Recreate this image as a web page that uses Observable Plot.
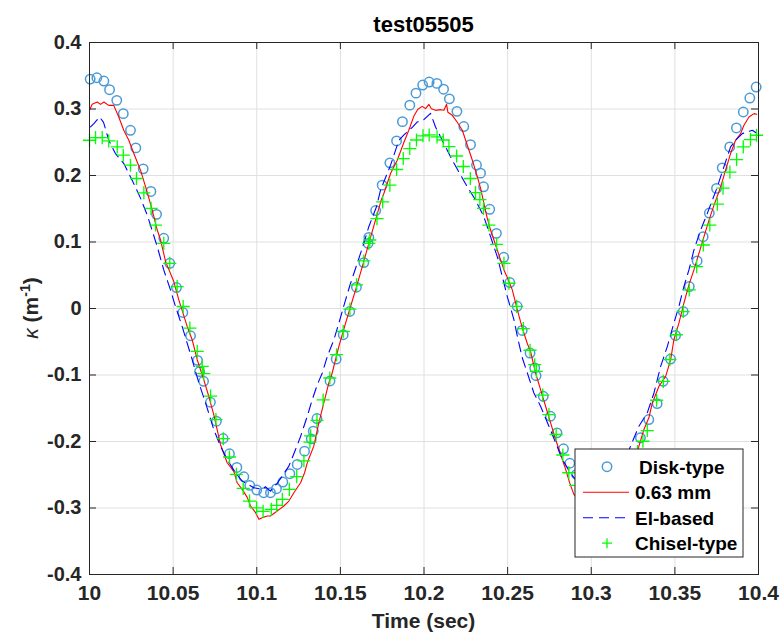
<!DOCTYPE html>
<html><head><meta charset="utf-8">
<script src="https://cdn.jsdelivr.net/npm/d3@7"></script>
<script src="https://cdn.jsdelivr.net/npm/@observablehq/plot@0.6"></script>
<style>
html,body{margin:0;padding:0;background:#fff;}
#chart{width:780px;height:636px;}
</style></head><body><div id="chart"></div>
<script>
const chartTitle = "test05505";
const xLabel = "Time (sec)";
const seriesNames = ["Disk-type", "0.63 mm", "El-based", "Chisel-type"];
const xTicks = [10, 10.05, 10.1, 10.15, 10.2, 10.25, 10.3, 10.35, 10.4];
const yTicks = [-0.4, -0.3, -0.2, -0.1, 0, 0.1, 0.2, 0.3, 0.4];

// [time (s), curvature (1/m)]
const diskType = [[10.0004,0.345],[10.0044,0.347],[10.0086,0.342],[10.0120,0.329],[10.0163,0.313],[10.0202,0.293],[10.0245,0.268],[10.0277,0.2415],[10.0321,0.210],[10.0367,0.176],[10.0401,0.1416],[10.0444,0.1056],[10.0480,0.068],[10.0520,0.0315],[10.0558,-0.006],[10.0604,-0.041],[10.0646,-0.078],[10.0658,-0.095],[10.0682,-0.1095],[10.0723,-0.141],[10.0759,-0.1695],[10.0799,-0.1955],[10.0837,-0.2184],[10.0881,-0.239],[10.0923,-0.253],[10.0958,-0.266],[10.1000,-0.273],[10.1042,-0.277],[10.1082,-0.277],[10.1118,-0.271],[10.1156,-0.261],[10.1198,-0.2484],[10.1242,-0.2345],[10.1286,-0.2145],[10.1326,-0.196],[10.1338,-0.1845],[10.1360,-0.1655],[10.1438,-0.109],[10.1475,-0.076],[10.1517,-0.0395],[10.1556,-0.0045],[10.1596,0.032],[10.1640,0.069],[10.1666,0.098],[10.1670,0.107],[10.1711,0.1473],[10.1750,0.1855],[10.1796,0.219],[10.1836,0.252],[10.1871,0.281],[10.1915,0.3058],[10.1952,0.3238],[10.1992,0.336],[10.2031,0.3405],[10.2077,0.3385],[10.2117,0.3298],[10.2152,0.3153],[10.2197,0.2965],[10.2238,0.2736],[10.2278,0.2463],[10.2314,0.2158],[10.2338,0.2035],[10.2356,0.183],[10.2393,0.1492],[10.2433,0.113],[10.2477,0.077],[10.2513,0.039],[10.2557,0.0033],[10.2587,-0.033],[10.2634,-0.067],[10.2662,-0.0894],[10.2670,-0.101],[10.2713,-0.132],[10.2756,-0.162],[10.2795,-0.187],[10.2834,-0.211],[10.2872,-0.2327],[10.2912,-0.2495],[10.2954,-0.263],[10.2996,-0.2705],[10.3031,-0.2735],[10.3073,-0.272],[10.3115,-0.266],[10.3157,-0.2555],[10.3199,-0.2405],[10.3241,-0.221],[10.3294,-0.1944],[10.3344,-0.167],[10.3394,-0.143],[10.3430,-0.1095],[10.3474,-0.076],[10.3504,-0.0405],[10.3550,-0.0045],[10.3586,0.033],[10.3633,0.0715],[10.3669,0.108],[10.3706,0.1435],[10.3749,0.1806],[10.3783,0.2115],[10.3828,0.243],[10.3868,0.2715],[10.3909,0.2955],[10.3948,0.3165],[10.3986,0.333]];

const mm063 = [[10.0000,0.298],[10.0016,0.307],[10.0046,0.3105],[10.0066,0.307],[10.0086,0.3105],[10.0115,0.3055],[10.0145,0.3055],[10.0175,0.288],[10.0205,0.268],[10.0235,0.253],[10.0265,0.233],[10.0305,0.208],[10.0345,0.175],[10.0375,0.148],[10.0405,0.118],[10.0425,0.103],[10.0455,0.0705],[10.0504,0.0405],[10.0534,0.013],[10.0584,-0.027],[10.0614,-0.047],[10.0644,-0.077],[10.0683,-0.107],[10.0713,-0.132],[10.0743,-0.1595],[10.0783,-0.2045],[10.0823,-0.232],[10.0863,-0.245],[10.0883,-0.262],[10.0913,-0.272],[10.0943,-0.284],[10.0963,-0.297],[10.0993,-0.307],[10.1013,-0.317],[10.1033,-0.3145],[10.1063,-0.312],[10.1082,-0.312],[10.1122,-0.3045],[10.1162,-0.297],[10.1192,-0.2895],[10.1222,-0.277],[10.1262,-0.262],[10.1286,-0.247],[10.1302,-0.232],[10.1341,-0.207],[10.1371,-0.172],[10.1401,-0.142],[10.1431,-0.112],[10.1451,-0.097],[10.1491,-0.057],[10.1531,-0.022],[10.1561,0.003],[10.1591,0.028],[10.1631,0.063],[10.1670,0.098],[10.1710,0.133],[10.1744,0.163],[10.1760,0.173],[10.1800,0.203],[10.1840,0.223],[10.1880,0.25],[10.1909,0.268],[10.1939,0.289],[10.1963,0.2995],[10.1990,0.304],[10.2009,0.3005],[10.2029,0.307],[10.2044,0.3005],[10.2069,0.298],[10.2099,0.299],[10.2119,0.298],[10.2135,0.307],[10.2143,0.295],[10.2169,0.2905],[10.2199,0.28],[10.2229,0.268],[10.2249,0.253],[10.2269,0.238],[10.2289,0.223],[10.2319,0.198],[10.2338,0.181],[10.2358,0.1585],[10.2378,0.136],[10.2398,0.118],[10.2438,0.088],[10.2478,0.058],[10.2494,0.049],[10.2528,0.028],[10.2558,-0.002],[10.2588,-0.0295],[10.2618,-0.053],[10.2637,-0.0645],[10.2667,-0.097],[10.2697,-0.122],[10.2727,-0.147],[10.2757,-0.172],[10.2787,-0.197],[10.2817,-0.2195],[10.2847,-0.242],[10.2870,-0.2615],[10.2896,-0.2795],[10.2936,-0.2915],[10.2978,-0.302],[10.3026,-0.311],[10.3068,-0.3125],[10.3116,-0.305],[10.3164,-0.2915],[10.3211,-0.272],[10.3253,-0.242],[10.3285,-0.207],[10.3315,-0.182],[10.3345,-0.164],[10.3365,-0.142],[10.3405,-0.117],[10.3445,-0.102],[10.3475,-0.077],[10.3494,-0.047],[10.3524,-0.022],[10.3554,0.008],[10.3584,0.0355],[10.3614,0.058],[10.3644,0.083],[10.3674,0.108],[10.3704,0.133],[10.3734,0.1555],[10.3774,0.183],[10.3803,0.208],[10.3833,0.233],[10.3863,0.253],[10.3893,0.263],[10.3913,0.2755],[10.3943,0.288],[10.3973,0.293],[10.3989,0.292]];

const elBased = [[10.0006,0.273],[10.0026,0.278],[10.0060,0.288],[10.0084,0.28],[10.0115,0.253],[10.0155,0.233],[10.0205,0.218],[10.0255,0.193],[10.0305,0.166],[10.0345,0.1405],[10.0355,0.133],[10.0405,0.093],[10.0444,0.058],[10.0484,0.028],[10.0514,0.003],[10.0554,-0.027],[10.0584,-0.052],[10.0614,-0.077],[10.0654,-0.112],[10.0694,-0.142],[10.0743,-0.182],[10.0783,-0.207],[10.0823,-0.227],[10.0873,-0.247],[10.0913,-0.2595],[10.0983,-0.2695],[10.1033,-0.272],[10.1052,-0.268],[10.1082,-0.2745],[10.1122,-0.263],[10.1152,-0.252],[10.1192,-0.237],[10.1232,-0.212],[10.1262,-0.1925],[10.1302,-0.162],[10.1332,-0.137],[10.1362,-0.1145],[10.1392,-0.097],[10.1422,-0.072],[10.1461,-0.047],[10.1491,-0.022],[10.1531,0.013],[10.1561,0.038],[10.1601,0.068],[10.1640,0.098],[10.1670,0.123],[10.1716,0.153],[10.1740,0.178],[10.1800,0.2155],[10.1850,0.253],[10.1880,0.261],[10.1930,0.2725],[10.1960,0.2805],[10.1999,0.284],[10.2039,0.2935],[10.2069,0.273],[10.2099,0.258],[10.2139,0.238],[10.2169,0.223],[10.2219,0.2005],[10.2259,0.183],[10.2308,0.163],[10.2338,0.148],[10.2358,0.138],[10.2398,0.108],[10.2438,0.078],[10.2468,0.048],[10.2498,0.018],[10.2518,0.0005],[10.2538,-0.017],[10.2558,-0.042],[10.2588,-0.0745],[10.2618,-0.097],[10.2657,-0.127],[10.2697,-0.147],[10.2747,-0.177],[10.2787,-0.202],[10.2827,-0.227],[10.2877,-0.248],[10.2925,-0.263],[10.2972,-0.2705],[10.3020,-0.275],[10.3068,-0.2735],[10.3116,-0.266],[10.3164,-0.251],[10.3205,-0.227],[10.3235,-0.207],[10.3285,-0.177],[10.3335,-0.157],[10.3375,-0.127],[10.3415,-0.087],[10.3455,-0.057],[10.3494,-0.022],[10.3524,0.003],[10.3554,0.033],[10.3584,0.058],[10.3614,0.088],[10.3654,0.118],[10.3694,0.143],[10.3724,0.163],[10.3754,0.183],[10.3793,0.213],[10.3833,0.243],[10.3863,0.253],[10.3903,0.263],[10.3933,0.2655],[10.3963,0.268],[10.3989,0.2635]];

const chiselType = [[10.0000,0.253],[10.0036,0.257],[10.0076,0.257],[10.0115,0.252],[10.0166,0.243],[10.0202,0.2305],[10.0245,0.2155],[10.0281,0.1955],[10.0325,0.174],[10.0368,0.1505],[10.0395,0.1255],[10.0444,0.098],[10.0480,0.068],[10.0524,0.033],[10.0560,0.003],[10.0600,-0.0295],[10.0644,-0.0645],[10.0674,-0.087],[10.0683,-0.098],[10.0724,-0.1318],[10.0756,-0.167],[10.0800,-0.1958],[10.0837,-0.2233],[10.0878,-0.2495],[10.0919,-0.2705],[10.0957,-0.2896],[10.0999,-0.2998],[10.1038,-0.305],[10.1087,-0.302],[10.1119,-0.296],[10.1153,-0.287],[10.1195,-0.272],[10.1239,-0.2528],[10.1282,-0.229],[10.1318,-0.2008],[10.1322,-0.1915],[10.1360,-0.1682],[10.1397,-0.1375],[10.1437,-0.1045],[10.1477,-0.0695],[10.1517,-0.0346],[10.1557,-0.001],[10.1597,0.0355],[10.1640,0.0715],[10.1670,0.098],[10.1676,0.103],[10.1719,0.1352],[10.1753,0.1604],[10.1796,0.1855],[10.1836,0.209],[10.1876,0.2255],[10.1915,0.2405],[10.1955,0.2534],[10.1994,0.2597],[10.2031,0.261],[10.2078,0.258],[10.2115,0.2534],[10.2149,0.2435],[10.2195,0.2293],[10.2235,0.2135],[10.2277,0.1955],[10.2308,0.1742],[10.2334,0.1636],[10.2356,0.1505],[10.2388,0.1255],[10.2434,0.0965],[10.2478,0.068],[10.2508,0.038],[10.2554,0.0032],[10.2594,-0.0302],[10.2634,-0.0628],[10.2662,-0.0845],[10.2672,-0.0946],[10.2710,-0.1303],[10.2747,-0.1595],[10.2790,-0.1895],[10.2830,-0.2203],[10.2866,-0.247],[10.2906,-0.266],[10.2948,-0.281],[10.2990,-0.2915],[10.3032,-0.296],[10.3074,-0.2945],[10.3116,-0.287],[10.3157,-0.275],[10.3199,-0.2585],[10.3241,-0.2375],[10.3277,-0.215],[10.3309,-0.1996],[10.3335,-0.1835],[10.3391,-0.138],[10.3431,-0.1096],[10.3470,-0.077],[10.3509,-0.0395],[10.3550,-0.0046],[10.3586,0.028],[10.3630,0.063],[10.3670,0.0955],[10.3709,0.1255],[10.3754,0.157],[10.3788,0.181],[10.3829,0.205],[10.3869,0.224],[10.3909,0.243],[10.3952,0.254],[10.3988,0.2605]];

const colors = {disk: "#4a9ad6", red: "#ff0000", blue: "#0000ff", green: "#00ff00"};
const toRows = arr => arr.map(([t, k]) => ({t, k}));

const W = 780, H = 636, mL = 89, mR = 22, mT = 42, mB = 62;
const pw = W - mL - mR, ph = H - mT - mB;
const font = '"Liberation Sans", Arial, Helvetica, sans-serif';
const axisColor = "#262626";
const tickLen = 7;
const dash = "10,6";

const fmtX = d => String(+d.toFixed(2));
const fmtY = d => (Math.abs(d) < 1e-9 ? "0" : d.toFixed(1));

const plot = Plot.plot({
  width: W, height: H,
  marginLeft: mL, marginRight: mR, marginTop: mT, marginBottom: mB,
  style: {fontFamily: font, fontSize: "20px", fontWeight: "bold", color: axisColor, background: "#fff", overflow: "visible"},
  x: {domain: [10, 10.4]},
  y: {domain: [-0.4, 0.4]},
  marks: [
    Plot.gridX(xTicks, {stroke: "#e0e0e0", strokeOpacity: 1}),
    Plot.gridY(yTicks, {stroke: "#e0e0e0", strokeOpacity: 1}),
    Plot.dot(toRows(diskType), {x: "t", y: "k", r: 4.7, stroke: colors.disk, strokeWidth: 1.5, fill: "none"}),
    Plot.line(toRows(mm063), {x: "t", y: "k", stroke: colors.red, strokeWidth: 1.1}),
    Plot.line(toRows(elBased), {x: "t", y: "k", stroke: colors.blue, strokeWidth: 1.1, strokeDasharray: dash}),
    Plot.dot(toRows(chiselType), {x: "t", y: "k", symbol: "plus", r: 4.3, stroke: colors.green, strokeWidth: 1.3}),
    Plot.frame({stroke: axisColor, strokeWidth: 1}),
    Plot.tickY(yTicks, {y: d => d, insetRight: pw - tickLen, stroke: axisColor}),
    Plot.tickY(yTicks, {y: d => d, insetLeft: pw - tickLen, stroke: axisColor}),
    Plot.tickX(xTicks, {x: d => d, insetBottom: ph - tickLen, stroke: axisColor}),
    Plot.tickX(xTicks, {x: d => d, insetTop: ph - tickLen, stroke: axisColor}),
    Plot.axisX(xTicks, {tickSize: 0, tickPadding: 11, tickFormat: fmtX, label: null, fontSize: 21}),
    Plot.axisY(yTicks, {tickSize: 0, tickPadding: 8, tickFormat: fmtY, label: null, fontSize: 20})
  ]
});

const svg = d3.select(plot);
const cx = mL + pw / 2;

svg.append("text").attr("x", cx).attr("y", 32).attr("text-anchor", "middle")
  .attr("font-family", font).attr("font-weight", "bold").attr("font-size", 22).attr("fill", "#000")
  .text(chartTitle);

svg.append("text").attr("x", cx).attr("y", 628).attr("text-anchor", "middle")
  .attr("font-family", font).attr("font-weight", "bold").attr("font-size", 21).attr("fill", axisColor)
  .text(xLabel);

const yl = svg.append("text").attr("transform", `translate(38,${mT + ph / 2}) rotate(-90)`)
  .attr("text-anchor", "middle").attr("font-family", font).attr("font-weight", "bold")
  .attr("font-size", 21).attr("fill", axisColor);
yl.append("tspan").attr("font-style", "italic").attr("font-weight", "normal").text("κ");
yl.append("tspan").text(" (m");
yl.append("tspan").attr("dy", -8).attr("font-size", 14).text("-1");
yl.append("tspan").attr("dy", 8).text(")");

// legend
const lg = svg.append("g");
const lx = 575, ly = 449, lw = 168, lh = 108, rowH = 25.5, row0 = 466.7;
lg.append("rect").attr("x", lx).attr("y", ly).attr("width", lw).attr("height", lh)
  .attr("fill", "#fff").attr("stroke", axisColor).attr("stroke-width", 1);
seriesNames.forEach((name, i) => {
  const y = row0 + i * rowH;
  if (i === 0) {
    lg.append("circle").attr("cx", 607).attr("cy", y).attr("r", 4.7).attr("fill", "none")
      .attr("stroke", colors.disk).attr("stroke-width", 1.5);
  } else if (i === 1) {
    lg.append("line").attr("x1", 583).attr("x2", 629).attr("y1", y).attr("y2", y)
      .attr("stroke", colors.red).attr("stroke-width", 1.1);
  } else if (i === 2) {
    lg.append("line").attr("x1", 583).attr("x2", 629).attr("y1", y).attr("y2", y)
      .attr("stroke", colors.blue).attr("stroke-width", 1.1).attr("stroke-dasharray", dash);
  } else {
    lg.append("path").attr("d", `M602,${y}H612M607,${y - 5}V${y + 5}`)
      .attr("stroke", colors.green).attr("stroke-width", 1.3).attr("fill", "none");
  }
  lg.append("text").attr("x", i === 0 ? 639 : 635).attr("y", y + 7).attr("text-anchor", "start")
    .attr("font-family", font).attr("font-weight", "bold").attr("font-size", 19)
    .attr("fill", "#000").text(name);
});

document.getElementById("chart").appendChild(plot);
</script>
</body></html>
